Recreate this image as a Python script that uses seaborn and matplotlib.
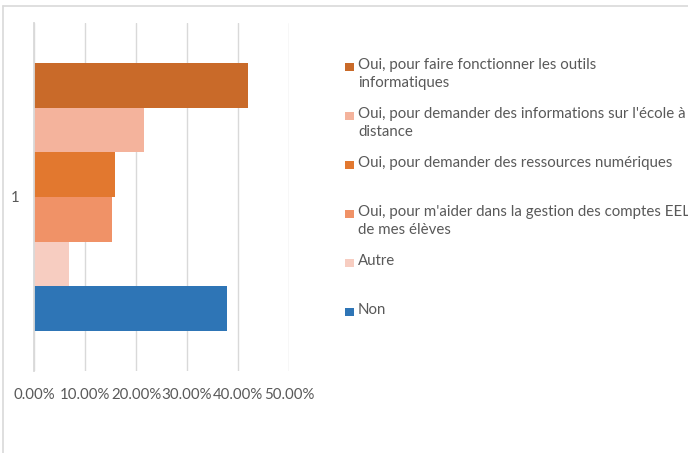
import pandas as pd
import seaborn as sns
import matplotlib
matplotlib.use('Agg')
from matplotlib import pyplot as plt
from matplotlib.patches import Rectangle
from matplotlib.lines import Line2D
from matplotlib.ticker import PercentFormatter

W, H = 688, 453
GRID = '#d9d9d9'
TXT = '#595959'

labels = [
    "Oui, pour faire fonctionner les outils\ninformatiques",
    "Oui, pour demander des informations sur l'école à\ndistance",
    "Oui, pour demander des ressources numériques",
    "Oui, pour m'aider dans la gestion des comptes EEL\nde mes élèves",
    "Autre",
    "Non",
]
values = [41.9, 21.5, 15.9, 15.2, 6.9, 37.8]
colors = ['#c96a29', '#f4b39c', '#e2782f', '#f09267', '#f7cdc1', '#2e75b6']
category = ["1"] * len(values)
xticks = [0, 10, 20, 30, 40, 50]

sns.set_style('white')
plt.rcParams['font.family'] = ['Lato', 'DejaVu Sans']

fig = plt.figure(figsize=(W / 100, H / 100), dpi=100)
ax = fig.add_axes([34 / W, 1 - 371 / H, (289 - 34) / W, (371 - 23) / H])

df = pd.DataFrame({'cat': category, 'val': values, 'lab': labels})
sns.barplot(data=df, x='val', y='cat', hue='lab', hue_order=labels,
            palette=colors, orient='h', width=0.77, legend=False,
            saturation=1, ax=ax, errorbar=None, linewidth=0)

ax.set_xlim(0, 50)
ax.set_xticks(xticks)
ax.xaxis.set_major_formatter(PercentFormatter(100, decimals=2))
ax.grid(axis='x', color=GRID, lw=1)
ax.set_axisbelow(True)
for s in ['top', 'right', 'bottom']:
    ax.spines[s].set_visible(False)
ax.spines['left'].set_color(GRID)
ax.spines['left'].set_linewidth(1.3)
ax.tick_params(axis='x', length=0, pad=12, labelsize=10.8, labelcolor=TXT)
ax.tick_params(axis='y', length=0, pad=10.5, labelsize=10.8, labelcolor=TXT)
ax.set_xlabel('')
ax.set_ylabel('')

# legend drawn by hand, one fixed slot per entry like the original
y0, step = 67, 49
for i, (lab, col) in enumerate(zip(labels, colors)):
    yc = y0 + i * step
    fig.add_artist(Rectangle((345 / W, 1 - (yc + 4) / H), 9 / W, 8 / H,
                             transform=fig.transFigure, color=col, lw=0))
    fig.text(358 / W, 1 - (yc - 9) / H, lab, va='top', ha='left',
             fontsize=10.8, color=TXT, linespacing=1.35)

# chart border
fig.add_artist(Line2D([3 / W, 3 / W], [0, 1 - 6 / H], color=GRID, lw=1.2))
fig.add_artist(Line2D([3 / W, 1], [1 - 6 / H, 1 - 6 / H], color=GRID, lw=1.2))

fig.savefig('out.png', dpi=100)
